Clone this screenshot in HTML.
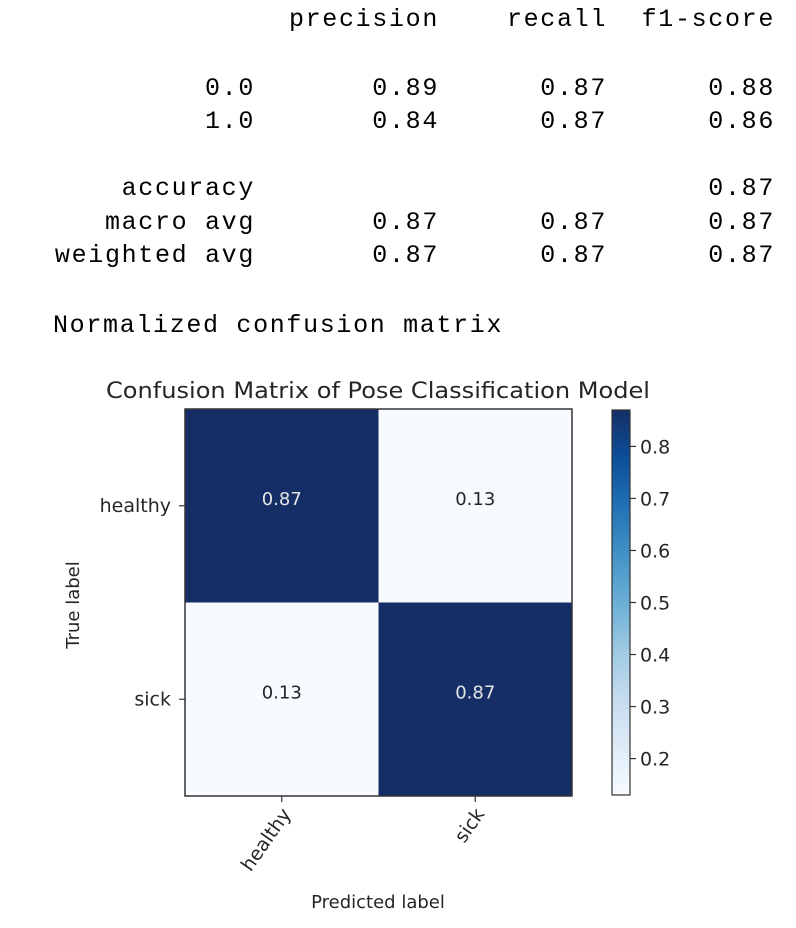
<!DOCTYPE html>
<html><head><meta charset="utf-8"><style>
html,body{margin:0;padding:0;background:#fff;}
svg{display:block;}
.mono{font-family:"Liberation Mono",monospace;font-size:25px;fill:#000;letter-spacing:1.67px;}
.sans{font-family:"DejaVu Sans","Liberation Sans",sans-serif;fill:#262626;}
</style></head><body>
<svg id="root" width="796" height="928" viewBox="0 0 796 928">
<g>
<text class="mono" x="439" y="26" text-anchor="end">precision</text>
<text class="mono" x="607" y="26" text-anchor="end">recall</text>
<text class="mono" x="775" y="26" text-anchor="end">f1-score</text>
<g id="rows"></g>
<text class="mono" x="53" y="332">Normalized confusion matrix</text>
</g>
<g id="chart">
<text class="sans" x="378" y="398" font-size="22" text-anchor="middle" textLength="544" lengthAdjust="spacingAndGlyphs">Confusion Matrix of Pose Classification Model</text>
<g id="cells"></g>
<rect x="185" y="409" width="387" height="387" fill="none" stroke="#333" stroke-width="1.5"/>
<g id="ticks"></g>
<text class="sans" font-size="18" text-anchor="middle" transform="translate(79,605) rotate(-90)">True label</text>
<text class="sans" font-size="18" x="378" y="908" text-anchor="middle">Predicted label</text>
<defs><linearGradient id="blues" x1="0" y1="1" x2="0" y2="0">
<stop offset="0" stop-color="#f7fbff"/><stop offset="0.125" stop-color="#deebf7"/><stop offset="0.25" stop-color="#c6dbef"/><stop offset="0.375" stop-color="#9ecae1"/><stop offset="0.5" stop-color="#6baed6"/><stop offset="0.625" stop-color="#4292c6"/><stop offset="0.75" stop-color="#2171b5"/><stop offset="0.875" stop-color="#0d4f9a"/><stop offset="1" stop-color="#152f66"/>
</linearGradient></defs>
<rect x="612" y="410" width="18" height="385" fill="url(#blues)" stroke="#333" stroke-width="1.2"/>
<g id="cbticks"></g>
</g>
</svg>
<script>
const reportLabels = ["0.0","1.0","","accuracy","macro avg","weighted avg"];
const reportPrecision = ["0.89","0.84","","","0.87","0.87"];
const reportRecall = ["0.87","0.87","","","0.87","0.87"];
const reportF1 = ["0.88","0.86","","0.87","0.87","0.87"];
const classes = ["healthy","sick"];
const matrix = [[0.87,0.13],[0.13,0.87]];
const cbTicks = [0.2,0.3,0.4,0.5,0.6,0.7,0.8];
const vmin = 0.13, vmax = 0.87;

const NS="http://www.w3.org/2000/svg";
function mk(tag, attrs, parent, txt){const e=document.createElementNS(NS,tag);for(const k in attrs)e.setAttribute(k,attrs[k]);if(txt!==undefined)e.textContent=txt;parent.appendChild(e);return e;}
const rowsG=document.getElementById('rows');
const rowY=[95,128,162,195,229,262];
const colX=[255,439,607,775];
reportLabels.forEach((lab,i)=>{
  [lab,reportPrecision[i],reportRecall[i],reportF1[i]].forEach((t,j)=>{
    if(!t)return;
    const e=mk('text',{class:'mono',x:colX[j],y:rowY[i],'text-anchor':'end'},rowsG,t);
    
    
  });
});
const x0=185,y0=409,size=387,n=classes.length,cw=size/n;
const xs=i=>x0+cw*i, ys=i=>y0+cw*i;
function colorOf(v){const t=(v-vmin)/(vmax-vmin);
  const stops=[[247,251,255],[222,235,247],[198,219,239],[158,202,225],[107,174,214],[66,146,198],[33,113,181],[13,79,154],[21,47,102]];
  const p=Math.max(0,Math.min(1,t))*(stops.length-1);const k=Math.min(stops.length-2,Math.floor(p));const f=p-k;
  const c=stops[k].map((a,idx)=>Math.round(a+(stops[k+1][idx]-a)*f));return `rgb(${c.join(',')})`;}
const cellsG=document.getElementById('cells');
const thresh=(vmax+vmin)/2;
matrix.forEach((row,r)=>row.forEach((v,c)=>{
  const rect=mk('rect',{x:xs(c),y:ys(r),width:cw,height:cw,fill:colorOf(v)},cellsG);
  
  
  const t=mk('text',{class:'sans',x:xs(c)+cw/2,y:ys(r)+cw/2-1,'font-size':18,'text-anchor':'middle',style:'fill:'+(v>thresh?'#e6e6e6':'#262626')},cellsG,v.toFixed(2));
  
  
}));
const tk=document.getElementById('ticks');
classes.forEach((c,i)=>{
  const cy=ys(i)+cw/2, cx=xs(i)+cw/2;
  mk('line',{x1:x0-6,y1:cy,x2:x0,y2:cy,stroke:'#333','stroke-width':1.2},tk);
  const yl=mk('text',{class:'sans',x:x0-14,y:cy+6,'font-size':19,'text-anchor':'end'},tk,c);
  
  
  mk('line',{x1:cx,y1:y0+size,x2:cx,y2:y0+size+6,stroke:'#333','stroke-width':1.2},tk);
  const xl=mk('text',{class:'sans','font-size':19,'text-anchor':'end',transform:`translate(${cx+10},${y0+size+18}) rotate(-55)`},tk,c);
  
  
});
const cb=document.getElementById('cbticks');
const cbTop=410,cbBot=795;
const cy=v=>cbBot-(v-vmin)/(vmax-vmin)*(cbBot-cbTop);
cbTicks.forEach(v=>{
  mk('line',{x1:630,y1:cy(v),x2:636,y2:cy(v),stroke:'#333','stroke-width':1.2},cb);
  const t=mk('text',{class:'sans',x:640,y:cy(v)+7,'font-size':19},cb,v.toFixed(1));
  
  
});
</script>
</body></html>
